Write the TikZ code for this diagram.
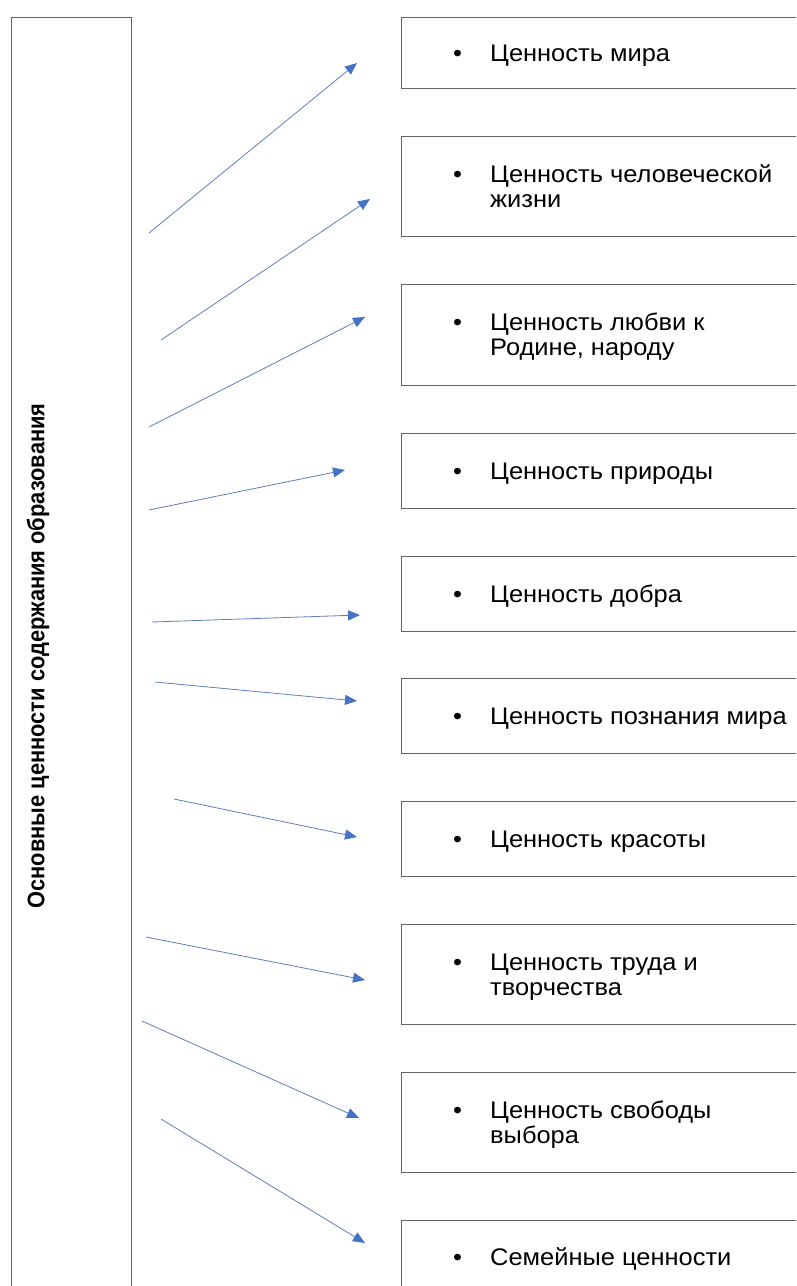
\documentclass[tikz,border=0pt]{standalone}
\usepackage{fontspec}
\setmainfont{Liberation Sans}
\newfontfamily\widefont[FakeStretch=1.06]{Liberation Sans}
\newfontfamily\narrowfont[FakeStretch=0.91]{Liberation Sans}
\usetikzlibrary{arrows.meta}
\definecolor{boxgray}{RGB}{100,100,100}
\definecolor{arrowline}{RGB}{95,125,185}
\definecolor{arrowtip}{RGB}{68,114,196}
\newcommand\vitem[1]{\begin{tabular}{@{}p{37pt}@{}l@{}}\textbullet & #1\end{tabular}}
\begin{document}
\begin{tikzpicture}[x=1pt,y=-1pt,
  valbox/.style={draw=boxgray, line width=1pt, rectangle, anchor=north west,
    minimum width=440pt, inner sep=0pt},
  valtext/.style={anchor=west, inner sep=0pt, yshift=-3pt, font=\widefont\fontsize{24}{25}\selectfont},
  mainbox/.style={draw=boxgray, line width=1.3pt, rectangle, anchor=north west,
    minimum width=120pt, minimum height=1320pt, inner sep=0pt},
  maintext/.style={rotate=90, inner sep=0pt, font=\narrowfont\bfseries\fontsize{24}{26}\selectfont},
  conn/.style={draw=arrowline, line width=0.8pt, -{Triangle[length=12pt,width=10pt,color=arrowtip]}}
]
\useasboundingbox (0,0) rectangle (796,1286);
\clip (0,0) rectangle (796,1286);

% left box
\node[mainbox] (main) at (11,17) {};
\node[maintext] (maint) at (38,656) {Основные ценности содержания образования};

% right boxes
\node[valbox, minimum height=71pt]  (b1)  at (401,17)  {};
\node[valbox, minimum height=100pt] (b2)  at (401,136) {};
\node[valbox, minimum height=101pt] (b3)  at (401,284) {};
\node[valbox, minimum height=75pt]  (b4)  at (401,433) {};
\node[valbox, minimum height=75pt]  (b5)  at (401,556) {};
\node[valbox, minimum height=75pt]  (b6)  at (401,678) {};
\node[valbox, minimum height=75pt]  (b7)  at (401,801) {};
\node[valbox, minimum height=100pt] (b8)  at (401,924) {};
\node[valbox, minimum height=100pt] (b9)  at (401,1072) {};
\node[valbox, minimum height=100pt] (b10) at (401,1220) {};

\node[valtext] (t1) at ([xshift=52pt]b1.west) {\vitem{Ценность мира}};
\node[valtext] (t2) at ([xshift=52pt]b2.west) {\vitem{Ценность человеческой\\ & жизни}};
\node[valtext] (t3) at ([xshift=52pt]b3.west) {\vitem{Ценность любви к\\ & Родине, народу}};
\node[valtext] (t4) at ([xshift=52pt]b4.west) {\vitem{Ценность природы}};
\node[valtext] (t5) at ([xshift=52pt]b5.west) {\vitem{Ценность добра}};
\node[valtext] (t6) at ([xshift=52pt]b6.west) {\vitem{Ценность познания мира}};
\node[valtext] (t7) at ([xshift=52pt]b7.west) {\vitem{Ценность красоты}};
\node[valtext] (t8) at ([xshift=52pt]b8.west) {\vitem{Ценность труда и\\ & творчества}};
\node[valtext] (t9) at ([xshift=52pt]b9.west) {\vitem{Ценность свободы\\ & выбора}};
\node[valtext] (t10) at (453,1257) {\vitem{Семейные ценности}};

% arrows
\coordinate (s1) at (149,233);   \coordinate (e1) at (357,63);
\coordinate (s2) at (161,340);   \coordinate (e2) at (370,199);
\coordinate (s3) at (149,427);   \coordinate (e3) at (365,317);
\coordinate (s4) at (149,510);   \coordinate (e4) at (345,470);
\coordinate (s5) at (152,622);   \coordinate (e5) at (360,615);
\coordinate (s6) at (155,682);   \coordinate (e6) at (357,701);
\coordinate (s7) at (174,799);   \coordinate (e7) at (357,837);
\coordinate (s8) at (146,937);   \coordinate (e8) at (365,980);
\coordinate (s9) at (142,1021);  \coordinate (e9) at (359,1118);
\coordinate (s10) at (161,1119); \coordinate (e10) at (365,1243);
\foreach \i in {1,...,10} {\draw[conn] (s\i) -- (e\i);}
\end{tikzpicture}
\end{document}
